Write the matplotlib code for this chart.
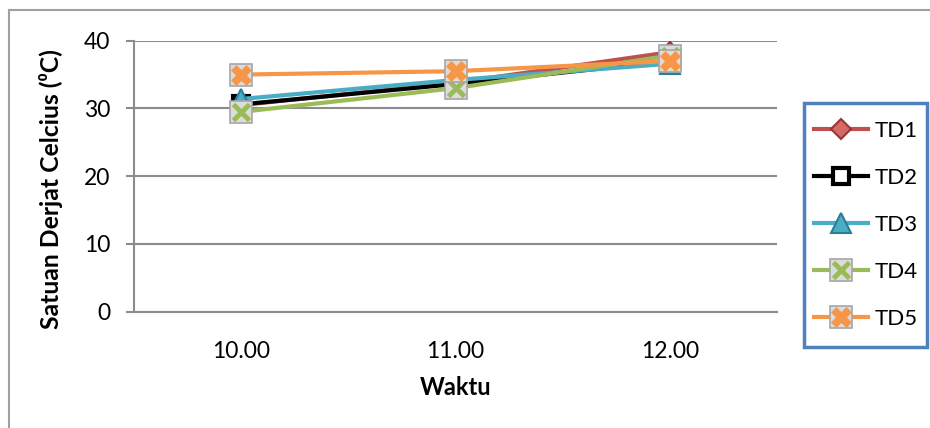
import matplotlib
matplotlib.use("Agg")
import matplotlib.pyplot as plt
from matplotlib.lines import Line2D
from matplotlib.patches import Rectangle
from matplotlib.legend_handler import HandlerTuple

plt.rcParams['font.family'] = ['Lato', 'DejaVu Sans']

# Data
waktu = ["10.00", "11.00", "12.00"]
td1 = [30.5, 33.8, 38.3]
td2 = [30.6, 33.6, 37.0]
td3 = [31.4, 34.2, 36.6]
td4 = [29.5, 33.0, 37.8]
td5 = [35.0, 35.5, 37.0]
series_names = ["TD1", "TD2", "TD3", "TD4", "TD5"]
y_ticks = [0, 10, 20, 30, 40]

GRID = "#8c8c8c"
BOXFACE = "#dcdcdc"
BOXEDGE = "#a6a6a6"

fig = plt.figure(figsize=(9.3, 4.28), dpi=100)
ax = fig.add_axes([134 / 930, 1 - 311.7 / 428, (777 - 134) / 930, (311.7 - 40.7) / 428])

x = list(range(len(waktu)))
lw = 3.0

handles = []
# TD1: red diamond
h1 = ax.plot(x, td1, color="#C0504D", lw=lw, marker="D", ms=10,
             mfc="#d46a67", mec="#9c3532", mew=1.5, zorder=3)[0]
handles.append(h1)
# TD2: black hollow square
h2 = ax.plot(x, td2, color="black", lw=lw, marker="s", ms=12,
             mfc="white", mec="black", mew=3, zorder=4)[0]
handles.append(h2)
# TD3: blue triangle
h3 = ax.plot(x, td3, color="#4BACC6", lw=lw, marker="^", ms=14,
             mfc="#4BACC6", mec="#2a7f97", mew=1.5, zorder=5)[0]
handles.append(h3)
# TD4: green cross on a grey tile
h4a = ax.plot(x, td4, color="#9BBB59", lw=lw, marker="s", ms=16,
              mfc=BOXFACE, mec=BOXEDGE, mew=1.2, zorder=6)[0]
h4b = ax.plot(x, td4, ls="none", marker="x", ms=12, mec="#9BBB59",
              mew=3.5, zorder=7)[0]
handles.append((h4a, h4b))
# TD5: orange filled cross on a grey tile
h5a = ax.plot(x, td5, color="#F79646", lw=lw, marker="s", ms=16,
              mfc=BOXFACE, mec=BOXEDGE, mew=1.2, zorder=8)[0]
h5b = ax.plot(x, td5, ls="none", marker="X", ms=15, mfc="#F79646",
              mec="#F79646", mew=0.5, zorder=9)[0]
handles.append((h5a, h5b))

ax.set_xlim(-0.5, len(waktu) - 0.5)
ax.set_ylim(0, 40)
ax.set_yticks(y_ticks)
ax.set_xticks(x)
ax.set_xticklabels(waktu)
ax.yaxis.grid(True, color=GRID, lw=1.5)
ax.set_axisbelow(True)
for s in ["top", "right"]:
    ax.spines[s].set_visible(False)
for s in ["left", "bottom"]:
    ax.spines[s].set_color(GRID)
    ax.spines[s].set_linewidth(1.5)
ax.tick_params(axis="y", length=6, width=1.5, color=GRID, labelsize=16.5, pad=11)
ax.tick_params(axis="x", length=0, labelsize=16.5, pad=21)

ax.set_xlabel("Waktu", fontsize=17, fontweight="bold", labelpad=10)
ax.set_ylabel("Satuan Derjat Celcius (\u2070C)", fontsize=17.8, fontweight="bold",
              labelpad=15)
ax.yaxis.label.set_y(0.453)

# Outer chart frame (left and top edges)
fig.add_artist(Line2D([9 / 930, 9 / 930], [0, 1 - 10 / 428],
                      transform=fig.transFigure, color="#a0a0a0", lw=1.5))
fig.add_artist(Line2D([9 / 930, 1], [1 - 10 / 428, 1 - 10 / 428],
                      transform=fig.transFigure, color="#a0a0a0", lw=1.5))

# Legend box
fig.add_artist(Rectangle((804 / 930, 1 - 347 / 428), 123 / 930, 244 / 428,
                         transform=fig.transFigure, fill=False,
                         edgecolor="#4F81BD", lw=2.5))
fig.legend(handles, series_names, loc="center",
           bbox_to_anchor=(866 / 930, 1 - 225 / 428),
           frameon=False, fontsize=16, handlelength=2.4, handletextpad=0.3,
           labelspacing=1.22,
           handler_map={tuple: HandlerTuple(ndivide=1)})

fig.savefig("out.png", dpi=100)
